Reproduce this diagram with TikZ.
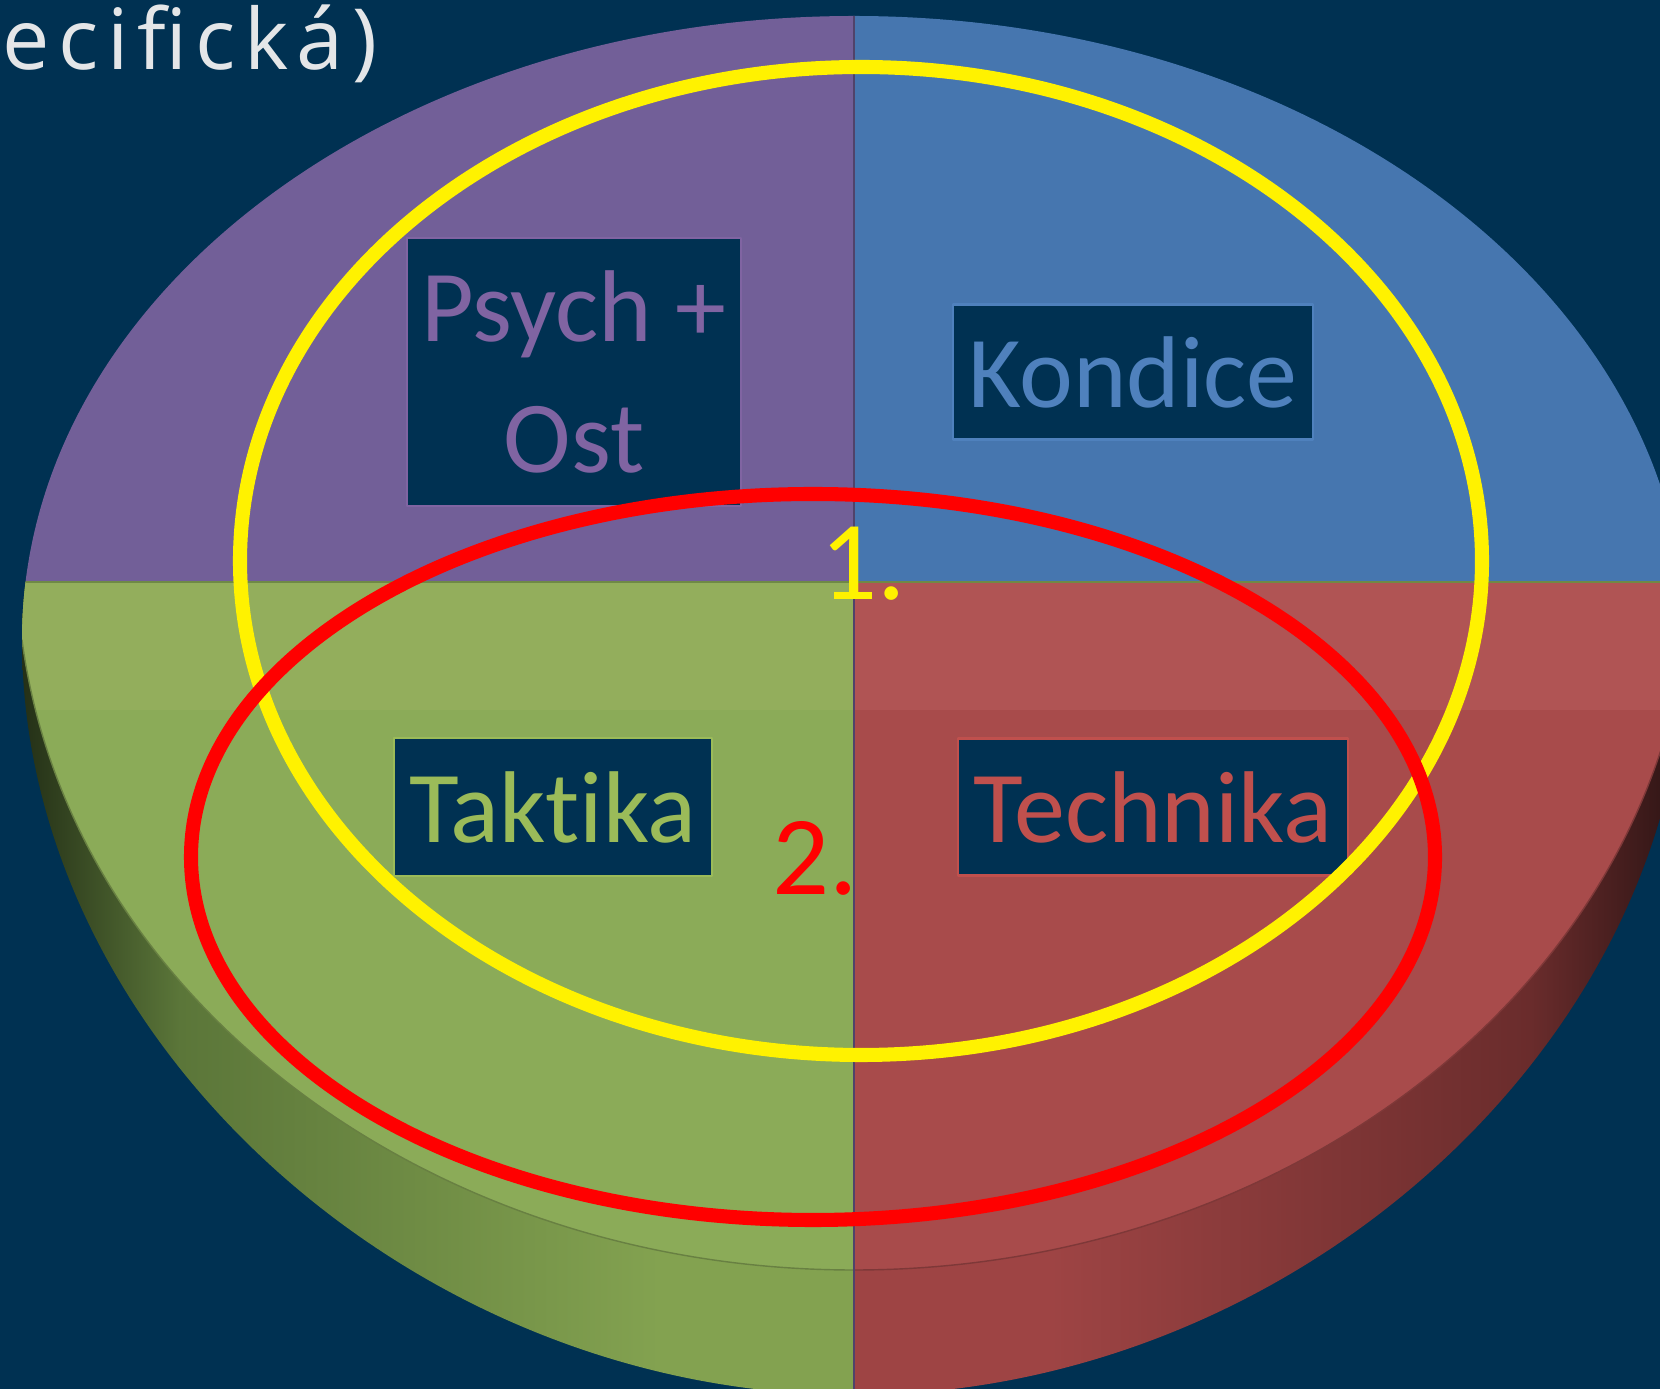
\documentclass[tikz,border=0pt]{standalone}
\usepackage{fontspec}
\setmainfont{Carlito}[Ligatures=NoCommon]
\newfontfamily\headfont[LetterSpace=10]{Open Sans}
\usepackage{tikz}
\usetikzlibrary{positioning}
\definecolor{bg}{HTML}{003152}
\definecolor{headtext}{HTML}{E4E6E8}
\definecolor{purpface}{HTML}{725F98}
\definecolor{blueface}{HTML}{4676AF}
\definecolor{greenband}{HTML}{93AE5C}
\definecolor{greenface}{HTML}{8BAB58}
\definecolor{greenside}{HTML}{83A250}
\definecolor{greenmid}{HTML}{5B7639}
\definecolor{greendark}{HTML}{1C2612}
\definecolor{redband}{HTML}{B05454}
\definecolor{redface}{HTML}{A84B4B}
\definecolor{redside}{HTML}{9E4444}
\definecolor{redmid}{HTML}{6A2C2C}
\definecolor{reddark}{HTML}{221010}
\definecolor{purptext}{HTML}{8064A2}
\definecolor{bluetext}{HTML}{4F81BD}
\definecolor{greentext}{HTML}{9BBB59}
\definecolor{redtext}{HTML}{C0504D}
\tikzset{
  LblBox/.style={
    draw=#1, line width=0.6pt,
    fill=bg, text=#1,
    inner sep=0pt, align=center,
    font=\fontsize{29pt}{37pt}\selectfont
  },
  Ring/.style={draw=#1, line width=4pt}
}
% outline of the whole pie (top face and side wall)
\newcommand{\PieOutline}{%
  (854,16) .. controls (394,16) and (22,295) .. (22,640)
  .. controls (22,1040) and (414,1395) .. (854,1395)
  .. controls (1294,1395) and (1686,1040) .. (1686,640)
  .. controls (1686,295) and (1314,16) .. (854,16) -- cycle}
% top face only
\newcommand{\PieTop}{%
  (854,16) .. controls (394,16) and (22,295) .. (22,640)
  .. controls (70,1000) and (430,1270) .. (854,1270)
  .. controls (1278,1270) and (1638,1000) .. (1686,640)
  .. controls (1686,295) and (1314,16) .. (854,16) -- cycle}

\begin{document}
\begin{tikzpicture}[x=0.01cm, y=-0.01cm, line cap=round, line join=round]
  \useasboundingbox (0,0) rectangle (1660,1389);
  \fill[bg] (0,0) rectangle (1660,1389);

  % pie body
  \begin{scope}
    \clip \PieOutline;
    \shade[left color=greendark, right color=greenmid] (0,582) rectangle (180,1400);
    \shade[left color=greenmid, right color=greenside] (180,582) rectangle (660,1400);
    \fill[greenside] (660,582) rectangle (854,1400);
    \fill[redside] (854,582) rectangle (1050,1400);
    \shade[left color=redside, right color=redmid] (1050,582) rectangle (1530,1400);
    \shade[left color=redmid, right color=reddark] (1530,582) rectangle (1710,1400);
    \begin{scope}
      \clip \PieTop;
      \fill[purpface] (0,0) rectangle (854,582);
      \fill[blueface] (854,0) rectangle (1710,582);
      \fill[greenface] (0,582) rectangle (854,1400);
      \fill[redface] (854,582) rectangle (1710,1400);
      \fill[greenband] (0,582) rectangle (854,710);
      \fill[redband] (854,582) rectangle (1710,710);
    \end{scope}
    \draw[black!25!greenface, line width=0.4pt] (22,640) .. controls (70,1000) and (430,1270) .. (854,1270);
    \draw[black!25!redface, line width=0.4pt] (854,1270) .. controls (1278,1270) and (1638,1000) .. (1686,640);
    \draw[black!30!purpface, line width=0.5pt] (854,16) -- (854,1400);
    \draw[black!20!greenface, line width=0.4pt] (0,582) -- (1710,582);
  \end{scope}

  % labels of the slices
  \node[LblBox=purptext, minimum width=3.33cm, minimum height=2.68cm] (psych) at (574,372) {Psych +\\Ost};
  \node[LblBox=bluetext, minimum width=3.6cm, minimum height=1.35cm] (kondice) at (1133,372) {Kondice};
  \node[LblBox=greentext, minimum width=3.17cm, minimum height=1.38cm] (taktika) at (553,807) {Taktika};
  \node[LblBox=redtext, minimum width=3.9cm, minimum height=1.37cm] (technika) at (1153,807) {Technika};

  % the two groups
  \draw[Ring=yellow] (861,561) ellipse [x radius=621, y radius=494];
  \draw[Ring=red] (813,857) ellipse [x radius=622, y radius=363];

  \node[anchor=base west, inner sep=0pt, text=yellow, font=\fontsize{32pt}{38pt}\selectfont] (num1) at (820,600) {1.};
  \node[anchor=base west, inner sep=0pt, text=red, font=\fontsize{32pt}{38pt}\selectfont] (num2) at (772,895) {2.};

  % heading cut off at the left edge
  \node[anchor=base east, inner sep=0pt, text=headtext, font=\headfont\fontsize{24pt}{28pt}\selectfont] (heading) at (378,70) {pecifická)};
\end{tikzpicture}
\end{document}
